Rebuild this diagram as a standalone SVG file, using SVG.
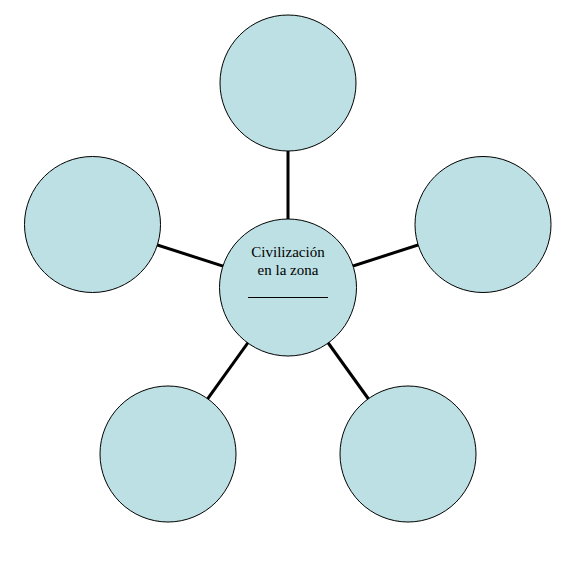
<svg xmlns="http://www.w3.org/2000/svg" width="576" height="576" viewBox="0 0 576 576">
<style>
.n{fill:#bce0e4;stroke:#000;stroke-width:1}
.c{stroke:#000;stroke-width:3;fill:none}
.t{font-size:15px;fill:#000;text-anchor:middle}
</style>
<rect width="576" height="576" fill="#fff"/>
<g id="connectors">
<line class="c" x1="288" y1="287" x2="288" y2="83"/>
<line class="c" x1="288" y1="287" x2="92" y2="224"/>
<line class="c" x1="288" y1="287" x2="483" y2="224"/>
<line class="c" x1="288" y1="287" x2="168" y2="454"/>
<line class="c" x1="288" y1="287" x2="408" y2="454"/>
</g>
<g id="top"><circle class="n" cx="288" cy="83" r="68"/></g>
<g id="left"><circle class="n" cx="92.5" cy="224.5" r="68"/></g>
<g id="right"><circle class="n" cx="483" cy="224.5" r="68"/></g>
<g id="bottomleft"><circle class="n" cx="168" cy="454" r="68"/></g>
<g id="bottomright"><circle class="n" cx="408" cy="454" r="68"/></g>
<g id="center">
<circle class="n" cx="288" cy="287.5" r="68.5"/>
<text class="t" font-family="'Liberation Serif', 'DejaVu Serif', serif" x="288" y="257">Civilización</text>
<text class="t" font-family="'Liberation Serif', 'DejaVu Serif', serif" x="288" y="275">en la zona</text>
<line x1="248" y1="297.5" x2="328" y2="297.5" stroke="#000" stroke-width="1"/>
</g>
</svg>
